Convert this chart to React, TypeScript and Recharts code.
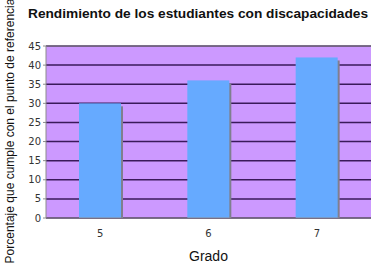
import React from 'react';
import { BarChart, Bar, XAxis, YAxis, CartesianGrid, ReferenceLine } from 'recharts';

const grades = ['5', '6', '7'];
const scores = [30, 36, 42];
const yTicks = [0, 5, 10, 15, 20, 25, 30, 35, 40, 45];

const chartData = grades.map((g, i) => ({ grade: g, score: scores[i] }));

const ShadowBar = (props: any) => {
  const { x, y, width, height } = props;
  if (!height || height <= 0) return null;
  return (
    <g>
      <rect x={x + 2} y={y + 3} width={width} height={height - 3} fill="#7f7f8f" />
      <rect x={x} y={y} width={width} height={height} fill="#66aaff" />
    </g>
  );
};

const App: React.FC = () => {
  return (
    <div style={{ position: 'absolute', left: 0, top: 0, width: 380, height: 267, background: '#fff' }}>
      <div
        style={{
          position: 'absolute',
          left: 0,
          top: 6,
          width: 396,
          textAlign: 'center',
          fontFamily: 'Liberation Sans, Arial, sans-serif',
          fontWeight: 700,
          fontSize: 13.7,
          color: '#111',
        }}
      >
        Rendimiento de los estudiantes con discapacidades
      </div>
      <svg width={24} height={267} style={{ position: 'absolute', left: 0, top: 0 }}>
        <text
          x={0}
          y={0}
          transform="translate(14,131) rotate(-90)"
          textAnchor="middle"
          fill="#111"
          fontSize={12}
          fontFamily="Liberation Sans, Arial, sans-serif"
        >
          Porcentaje que cumple con el punto de referencia
        </text>
      </svg>
      <BarChart
        width={380}
        height={267}
        data={chartData}
        margin={{ top: 46, right: 9, bottom: 0, left: 0 }}
        barCategoryGap="30%"
        style={{ position: 'absolute', left: 0, top: 0 }}
      >
        <CartesianGrid
          vertical={false}
          horizontal
          stroke="#3a1a5a"
          strokeWidth={1.5}
          fill="#cc99ff"
          fillOpacity={1}
        />
        <ReferenceLine y={45} stroke="#8c8c8c" />
        <XAxis
          dataKey="grade"
          height={49}
          axisLine={{ stroke: '#8c8c8c' }}
          tickLine={false}
          tick={{ fill: '#333', fontSize: 10, fontFamily: 'DejaVu Sans, Verdana, sans-serif' }}
          dy={4}
          label={{
            value: 'Grado',
            position: 'insideBottom',
            offset: 6,
            fill: '#111',
            fontSize: 14,
            fontFamily: 'Liberation Sans, Arial, sans-serif',
          }}
        />
        <YAxis
          width={46}
          domain={[0, 45]}
          ticks={yTicks}
          interval={0}
          axisLine={{ stroke: '#8c8c8c' }}
          tickLine={{ stroke: '#8c8c8c' }}
          tickSize={3}
          tick={{ fill: '#333', fontSize: 10, fontFamily: 'DejaVu Sans, Verdana, sans-serif' }}
        />
        <YAxis
          yAxisId="r"
          orientation="right"
          width={0}
          domain={[0, 45]}
          axisLine={{ stroke: '#8c8c8c' }}
          tickLine={false}
          tick={false}
        />
        <Bar dataKey="score" shape={ShadowBar} barSize={42} isAnimationActive={false} />
      </BarChart>
    </div>
  );
};

export default App;
